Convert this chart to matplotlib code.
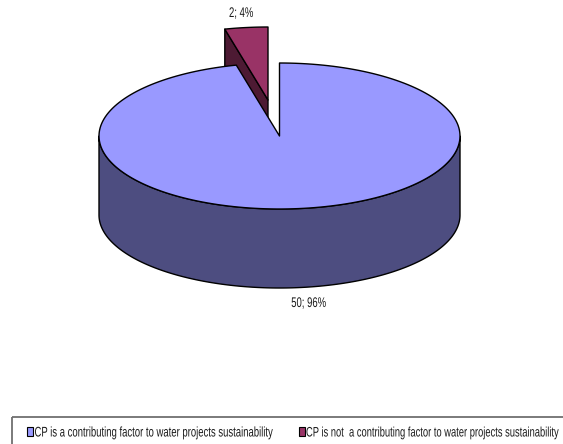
import numpy as np
import matplotlib
matplotlib.use("Agg")
import matplotlib.pyplot as plt
from matplotlib.patches import Polygon, Rectangle
from matplotlib.text import Text
from matplotlib.textpath import TextPath
from matplotlib.transforms import Affine2D

categories = ["CP is a contributing factor to water projects sustainability",
              "CP is not  a contributing factor to water projects sustainability"]
values = [50, 2]
top_colors = ["#9999FF", "#993366"]
side_colors = ["#4D4D80", "#4D1A33"]

plt.rcParams["font.family"] = ["Liberation Sans"]


class TallText(Text):
    """Text whose glyphs are stretched vertically about the baseline."""

    stretch = 1.47

    def draw(self, renderer):
        if not self.get_visible():
            return
        size_px = self.get_fontsize() * self.figure.dpi / 72
        path = TextPath((0, 0), self.get_text(), size=size_px,
                        prop=self.get_fontproperties())
        width = path.get_extents().x1
        px, py = self.get_transform().transform(self.get_position())
        shift = {"left": 0, "center": -width / 2, "right": -width}[self.get_ha()]
        tr = Affine2D().scale(1, self.stretch).translate(px + shift, py)
        gc = renderer.new_gc()
        gc.set_linewidth(0)
        gc.set_antialiased(True)
        renderer.draw_path(gc, path, tr, rgbFace=matplotlib.colors.to_rgba(self.get_color()))
        gc.restore()


def label(ax, x, y, text, ha="left", size=6.85):
    t = TallText(x, y, text, ha=ha, va="baseline", fontsize=size, color="#1a1a1a",
                 transform=ax.transData)
    ax.add_artist(t)
    return t


W, H = 563, 444
fig = plt.figure(figsize=(W / 100, H / 100), dpi=100)
ax = fig.add_axes([0, 0, 1, 1])
ax.set_xlim(0, W)
ax.set_ylim(H, 0)
ax.axis("off")

cx, cy, rx, ry, depth = 279.5, 136.0, 180.5, 73.0, 79.0
explode = (-11.5, -36.0)


def rim(a0, a1, n=200):
    """Ellipse points for clockwise angles measured from twelve o'clock."""
    t = np.radians(np.linspace(a0, a1, n))
    return np.column_stack([rx * np.sin(t), -ry * np.cos(t)])


total = sum(values)
sweep = 360 * values[0] / total
apex = np.array([cx, cy])
edge = dict(edgecolor="black", linewidth=1.0, joinstyle="round")

# exploded small slice: cut wall first, then its top face
small_apex = apex + explode
small_rim = rim(sweep, 360, 40) + small_apex
wall = np.array([small_rim[0], small_apex, small_apex + (0, depth), small_rim[0] + (0, depth)])
ax.add_patch(Polygon(wall, closed=True, facecolor=side_colors[1], **edge, zorder=1))
ax.add_patch(Polygon(np.vstack([small_apex, small_rim]), closed=True, facecolor=top_colors[1], **edge, zorder=2))

# large slice: outer wall along the front half, then the top face
front = rim(90, 270) + apex
outer = np.vstack([front, (front + (0, depth))[::-1]])
ax.add_patch(Polygon(outer, closed=True, facecolor=side_colors[0], **edge, zorder=3))
ax.add_patch(Polygon(np.vstack([apex, rim(0, sweep) + apex]), closed=True, facecolor=top_colors[0], **edge, zorder=4))

label(ax, 241, 17, f"{values[1]}; {round(100 * values[1] / total)}%", ha="center")
label(ax, 308.5, 307, f"{values[0]}; {round(100 * values[0] / total)}%", ha="center")

# legend frame runs off the right and bottom edges
ax.add_patch(Rectangle((11.5, 416.5), 600, 60, facecolor="none", edgecolor="#707070", linewidth=1.3))
for sx, tx, color, name, size in zip([26.5, 298.5], [34.5, 306], top_colors, categories, [6.85, 6.74]):
    ax.add_patch(Rectangle((sx, 427), 6, 9, facecolor=color, edgecolor="black", linewidth=0.8))
    label(ax, tx, 436.5, name, size=size)

fig.savefig("out.png", dpi=100)
